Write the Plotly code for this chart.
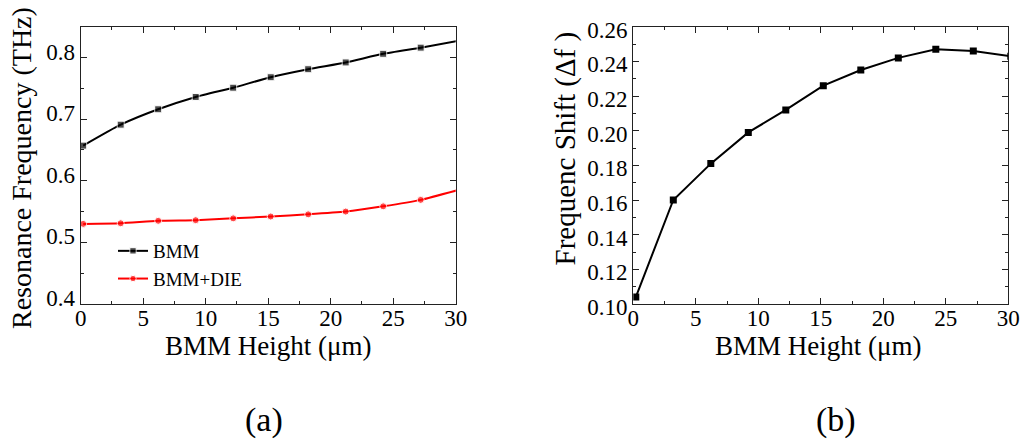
import plotly.graph_objects as go

# ---- data ----
height_um = [0.2, 3.2, 6.2, 9.2, 12.2, 15.2, 18.2, 21.2, 24.2, 27.2, 30.2]
bmm_thz = [0.657, 0.691, 0.716, 0.736, 0.751, 0.768, 0.781, 0.792, 0.806, 0.816, 0.827]
bmm_die_thz = [0.530, 0.531, 0.535, 0.536, 0.539, 0.542, 0.5455, 0.550, 0.5585, 0.569, 0.585]
freq_shift = [0.104, 0.160, 0.181, 0.199, 0.212, 0.226, 0.235, 0.242, 0.247, 0.246, 0.243]

x_ticks = [0, 5, 10, 15, 20, 25, 30]

W, H = 1025, 441
FONT = "Liberation Serif"

def px_x(p):
    return p / W

def px_y(p):
    return 1 - p / H

fig = go.Figure()

n = len(height_um)
left_sizes = [7] * (n - 1) + [0]

fig.add_trace(go.Scatter(
    x=height_um, y=bmm_thz, name="BMM", mode="lines+markers",
    line=dict(color="black", width=2, shape="spline", smoothing=0.5),
    marker=dict(symbol="square", size=left_sizes, color="black"),
    xaxis="x", yaxis="y"))
fig.add_trace(go.Scatter(
    x=height_um, y=bmm_die_thz, name="BMM+DIE", mode="lines+markers",
    line=dict(color="#ff0000", width=2, shape="spline", smoothing=0.5),
    marker=dict(symbol="circle", size=left_sizes, color="#ff0000"),
    xaxis="x", yaxis="y"))
fig.add_trace(go.Scatter(
    x=height_um, y=freq_shift, name="shift", mode="lines+markers", showlegend=False,
    line=dict(color="black", width=2),
    marker=dict(symbol="square", size=7, color="black"),
    xaxis="x2", yaxis="y2"))

axis_common = dict(
    showline=True, linecolor="#222", linewidth=1.3, mirror="ticks",
    ticks="inside", ticklen=6, tickwidth=1.2, tickcolor="#222",
    showgrid=False, zeroline=False, automargin=False,
    tickfont=dict(family=FONT, size=23, color="black"),
)

ydom = [px_y(304), px_y(26.7)]

fig.update_layout(
    width=W, height=H,
    margin=dict(l=0, r=0, t=0, b=0, pad=0, autoexpand=False),
    paper_bgcolor="white", plot_bgcolor="white",
    font=dict(family=FONT, color="black"),
    xaxis=dict(domain=[px_x(80.7), px_x(455.7)], range=[0, 30],
               tickvals=x_ticks, anchor="y", ticklabelstandoff=-7,
               minor=dict(dtick=2.5, ticks="inside", ticklen=3, tickcolor="#222"),
               **axis_common),
    yaxis=dict(domain=ydom, range=[0.4, 0.85], dtick=0.1, tick0=0.4,
               tickformat=".1f", anchor="x", ticklabelshift=-6,
               minor=dict(dtick=0.05, ticks="inside", ticklen=3, tickcolor="#222"),
               **axis_common),
    xaxis2=dict(domain=[px_x(633.3), px_x(1008.3)], range=[0, 30],
                tickvals=x_ticks, anchor="y2", ticklabelstandoff=-7,
                minor=dict(dtick=2.5, ticks="inside", ticklen=3, tickcolor="#222"),
                **axis_common),
    yaxis2=dict(domain=ydom, range=[0.10, 0.26], dtick=0.02, tick0=0.10,
                tickformat=".2f", anchor="x2", ticklabelshift=3,
                minor=dict(dtick=0.01, ticks="inside", ticklen=3, tickcolor="#222"),
                **axis_common),
    legend=dict(x=px_x(113), y=px_y(232), xanchor="left", yanchor="top",
                bgcolor="rgba(0,0,0,0)", borderwidth=0,
                font=dict(family=FONT, size=19, color="black"),
                tracegroupgap=0, itemwidth=30),
    showlegend=True,
)

ann_font = dict(family=FONT, color="black")
annotations = [
    dict(text="Resonance Frequency (THz)", x=px_x(21), y=px_y(168), textangle=-90,
         font=dict(size=28, **ann_font)),
    dict(text="Frequenc Shift (\u0394f )", x=px_x(565), y=px_y(148.5), textangle=-90,
         font=dict(size=29, **ann_font)),
    dict(text="BMM Height (\u03bcm)", x=px_x(268), y=px_y(346),
         font=dict(size=27, **ann_font)),
    dict(text="BMM Height (\u03bcm)", x=px_x(818), y=px_y(346),
         font=dict(size=27, **ann_font)),
    dict(text="(a)", x=px_x(264), y=px_y(420), font=dict(size=34, **ann_font)),
    dict(text="(b)", x=px_x(836), y=px_y(420), font=dict(size=34, **ann_font)),
]
for a in annotations:
    a.update(xref="paper", yref="paper", showarrow=False, xanchor="center", yanchor="middle")
fig.update_layout(annotations=annotations)

fig.write_html("out.html")
